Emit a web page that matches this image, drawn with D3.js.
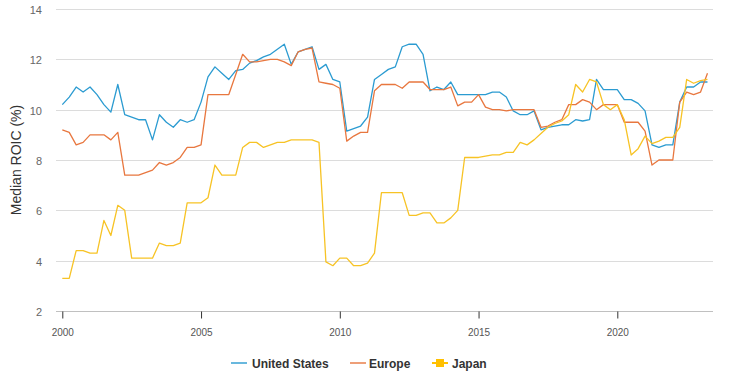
<!DOCTYPE html>
<html>
<head>
<meta charset="utf-8">
<script src="https://cdn.jsdelivr.net/npm/d3@7"></script>
<style>
  html, body { margin: 0; padding: 0; background: #fff; }
  svg { display: block; font-family: "Liberation Sans", Arial, Helvetica, sans-serif; }
</style>
</head>
<body>
<svg id="chart" width="729" height="384"></svg>
<script>
// ---- Data (quarterly, 2000 Q1 .. 2023 Q2) ----
const startYear = 2000;
const seriesNames = ["United States", "Europe", "Japan"];
const seriesColors = ["#2b9bd1", "#e8773f", "#f7c325"];

const usValues = [
  10.2, 10.5, 10.9, 10.7, 10.9, 10.6, 10.2, 9.9, 11.0, 9.8,
  9.7, 9.6, 9.6, 8.8, 9.8, 9.5, 9.3, 9.6, 9.5, 9.6,
  10.3, 11.3, 11.7, 11.45, 11.2, 11.55, 11.6, 11.85, 11.95, 12.1,
  12.2, 12.4, 12.6, 11.8, 12.3, 12.4, 12.5, 11.6, 11.8, 11.2,
  11.1, 9.15, 9.25, 9.35, 9.7, 11.2, 11.4, 11.6, 11.7, 12.5,
  12.6, 12.6, 12.2, 10.75, 10.9, 10.8, 11.1, 10.6, 10.6, 10.6,
  10.6, 10.6, 10.7, 10.7, 10.5, 9.95, 9.8, 9.8, 9.95, 9.2,
  9.3, 9.35, 9.4, 9.4, 9.6, 9.55, 9.6, 11.2, 10.8, 10.8,
  10.8, 10.4, 10.4, 10.25, 9.95, 8.6, 8.5, 8.6, 8.6, 10.3,
  10.9, 10.9, 11.1, 11.1
];
const europeValues = [
  9.2, 9.1, 8.6, 8.7, 9.0, 9.0, 9.0, 8.8, 9.1, 7.4,
  7.4, 7.4, 7.5, 7.6, 7.9, 7.8, 7.9, 8.1, 8.5, 8.5,
  8.6, 10.6, 10.6, 10.6, 10.6, 11.4, 12.2, 11.9, 11.9, 11.95,
  12.0, 12.0, 11.9, 11.75, 12.3, 12.4, 12.45, 11.1, 11.05, 11.0,
  10.85, 8.75, 8.95, 9.1, 9.1, 10.75, 11.0, 11.0, 11.0, 10.85,
  11.1, 11.1, 11.1, 10.8, 10.8, 10.8, 10.9, 10.15, 10.3, 10.3,
  10.6, 10.1, 10.0, 10.0, 9.95, 10.0, 10.0, 10.0, 10.0, 9.3,
  9.35, 9.5, 9.6, 10.2, 10.2, 10.4, 10.3, 10.0, 10.2, 10.2,
  10.2, 9.5, 9.5, 9.5, 9.15, 7.8, 8.0, 8.0, 8.0, 10.3,
  10.7, 10.6, 10.7, 11.45
];
const japanValues = [
  3.3, 3.3, 4.4, 4.4, 4.3, 4.3, 5.6, 5.0, 6.2, 6.0,
  4.1, 4.1, 4.1, 4.1, 4.7, 4.6, 4.6, 4.7, 6.3, 6.3,
  6.3, 6.5, 7.8, 7.4, 7.4, 7.4, 8.5, 8.7, 8.7, 8.5,
  8.6, 8.7, 8.7, 8.8, 8.8, 8.8, 8.8, 8.7, 3.95, 3.8,
  4.1, 4.1, 3.8, 3.8, 3.9, 4.3, 6.7, 6.7, 6.7, 6.7,
  5.8, 5.8, 5.9, 5.9, 5.5, 5.5, 5.7, 6.0, 8.1, 8.1,
  8.1, 8.15, 8.2, 8.2, 8.3, 8.3, 8.7, 8.6, 8.8, 9.05,
  9.3, 9.45, 9.55, 9.8, 11.0, 10.7, 11.2, 11.1, 10.2, 10.0,
  10.2, 9.6, 8.2, 8.45, 8.95, 8.65, 8.75, 8.9, 8.9, 9.3,
  11.2, 11.05, 11.15, 11.2
];
const xTickValues = [2000, 2005, 2010, 2015, 2020];
const yTickValues = [2, 4, 6, 8, 10, 12, 14];
const yAxisTitle = "Median ROIC (%)";

// quarter positions in years
const quarterTimes = usValues.map((_, i) => startYear + i / 4);
const allSeries = [usValues, europeValues, japanValues];

// ---- Layout ----
const svg = d3.select("#chart");
const plotLeft = 56, plotRight = 713, plotTop = 9, plotBottom = 311;

const x = d3.scaleLinear()
  .domain([2000 - 6.3 / 27.75, 2000 + (plotRight - 62.3) / 27.75])
  .range([plotLeft, plotRight]);
const y = d3.scaleLinear().domain([2, 14]).range([plotBottom, plotTop]);

// gridlines
svg.append("g")
  .selectAll("line")
  .data(yTickValues)
  .join("line")
  .attr("x1", plotLeft).attr("x2", plotRight)
  .attr("y1", d => Math.round(y(d)) + 0.5).attr("y2", d => Math.round(y(d)) + 0.5)
  .attr("stroke", "#dcdcdc").attr("stroke-width", 1);

// y tick labels
svg.append("g")
  .selectAll("text")
  .data(yTickValues)
  .join("text")
  .attr("x", 42)
  .attr("y", d => y(d) + 5)
  .attr("text-anchor", "end")
  .attr("font-size", 11)
  .attr("fill", "#666")
  .text(d => d);

// y axis title
svg.append("text")
  .attr("transform", `translate(21,160) rotate(-90)`)
  .attr("text-anchor", "middle")
  .attr("font-size", 14)
  .attr("fill", "#333")
  .text(yAxisTitle);

// x axis
const xAxis = d3.axisBottom(x)
  .tickValues(xTickValues)
  .tickFormat(d3.format("d"))
  .tickSize(7)
  .tickSizeOuter(0);
const gx = svg.append("g")
  .attr("transform", `translate(0,${plotBottom + 0.5})`)
  .call(xAxis);
gx.select(".domain").attr("stroke", "#c0c0c0").attr("d", `M${plotLeft},0H${plotRight}`);
gx.selectAll(".tick line").attr("stroke", "#333").attr("stroke-width", 1);
gx.selectAll(".tick text")
  .attr("fill", "#555")
  .attr("font-size", 10)
  .attr("font-family", "'Liberation Sans', Arial, sans-serif")
  .attr("dy", "0")
  .attr("y", 24);

// lines
const line = d3.line()
  .x((d, i) => x(quarterTimes[i]))
  .y(d => y(d));

svg.append("g")
  .selectAll("path")
  .data(allSeries)
  .join("path")
  .attr("d", d => line(d))
  .attr("fill", "none")
  .attr("stroke", (d, i) => seriesColors[i])
  .attr("stroke-width", 1.3)
  .attr("stroke-linejoin", "round");

// legend
const legendItems = [
  { name: seriesNames[0], color: seriesColors[0], sx: 231, tx: 252, marker: false },
  { name: seriesNames[1], color: seriesColors[1], sx: 350, tx: 369, marker: false },
  { name: seriesNames[2], color: "#ffc000", sx: 432, tx: 452, marker: true }
];
const legendY = 363;
const lg = svg.append("g");
legendItems.forEach(it => {
  lg.append("line")
    .attr("x1", it.sx).attr("x2", it.sx + 16)
    .attr("y1", legendY).attr("y2", legendY)
    .attr("stroke", it.color)
    .attr("stroke-width", 2)
    .attr("opacity", it.marker ? 1 : 0.7);
  if (it.marker) {
    lg.append("rect")
      .attr("x", it.sx + 4).attr("y", legendY - 4)
      .attr("width", 8).attr("height", 8)
      .attr("fill", it.color);
  }
  lg.append("text")
    .attr("x", it.tx).attr("y", legendY + 4.5)
    .attr("font-size", 12)
    .attr("font-weight", "bold")
    .attr("fill", "#333")
    .text(it.name);
});
</script>
</body>
</html>
